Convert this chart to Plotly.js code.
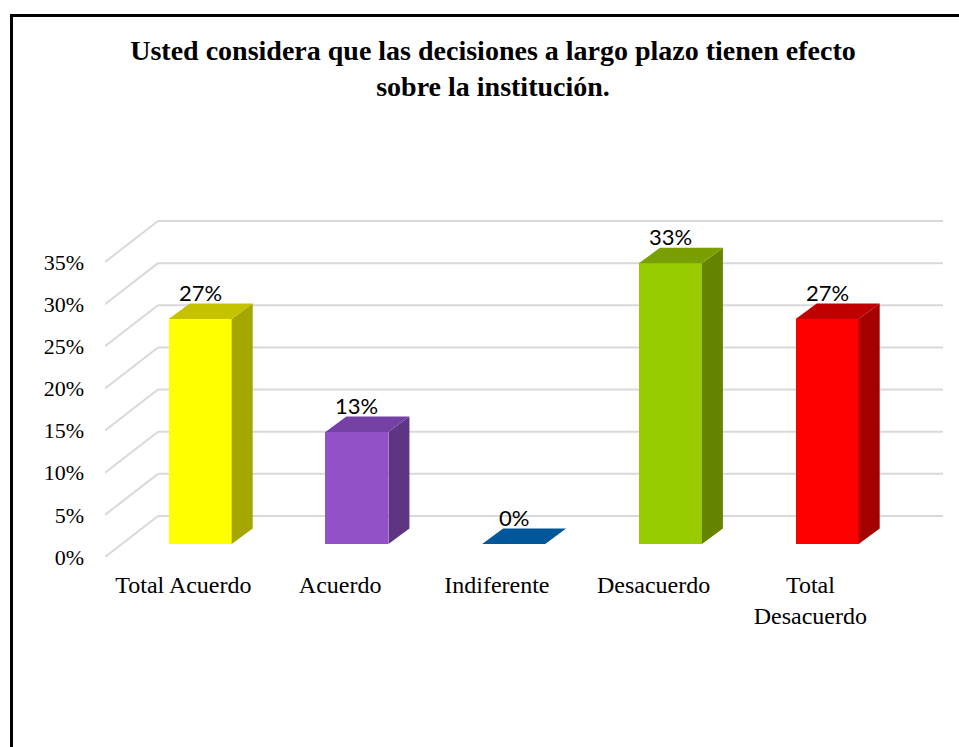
<!DOCTYPE html>
<html>
<head>
<meta charset="utf-8">
<script src="https://cdn.plot.ly/plotly-3.0.1.min.js"></script>
<style>
  html, body { margin: 0; padding: 0; background: #fff; }
  #wrap { position: relative; width: 959px; height: 747px; overflow: hidden; }
  #chart { position: absolute; left: 0; top: 0; width: 959px; height: 747px; }
  #frame { position: absolute; left: 10px; top: 14px; right: -5px; bottom: -5px;
           border-left: 3px solid #000; border-top: 3px solid #000; pointer-events: none; }
</style>
</head>
<body>
<div id="wrap">
  <div id="chart"></div>
  <div id="frame"></div>
</div>
<script>
// ---------------- data ----------------
const categories = ["Total Acuerdo", "Acuerdo", "Indiferente", "Desacuerdo", "Total<br>Desacuerdo"];
const values = [0.267, 0.133, 0.0, 0.333, 0.267];
const yTicks = [0, 0.05, 0.10, 0.15, 0.20, 0.25, 0.30, 0.35];
const titleText = "Usted considera que las decisiones a largo plazo tienen efecto<br>sobre la institución.";

// ---------------- styles ----------------
const frontColors = ["#FFFF00", "#9351C8", "#01579B", "#99CC00", "#FF0000"];
const topColors   = ["#C5C300", "#7541A5", "#02569A", "#79A000", "#C00000"];
const sideColors  = ["#A6A600", "#5F3484", "#013F70", "#658500", "#A40000"];
const gridColor = "#D9D9D9";
const serif = "Liberation Serif, Times New Roman, serif";

// ---------------- geometry (pixels -> axis units) ----------------
const M = { l: 105, r: 10, t: 215, b: 190 };
const W = 959, H = 747;
const plotW = W - M.l - M.r, plotH = H - M.t - M.b;
const pxPerCat = 156.75;          // px per category
const pxPerUnit = 842.86;         // px per 100%
const xMin = -0.5, xMax = xMin + plotW / pxPerCat;
const yMax = plotH / pxPerUnit;
const gridXEnd = xMin + (943 - M.l) / pxPerCat;
const wallDX = 53 / pxPerCat, wallDY = 41 / pxPerUnit;   // floor depth
const barOffX = 16.8 / pxPerCat, barOffY = 13 / pxPerUnit; // bar front plane
const barW = 63 / pxPerCat;
const barDX = 21 / pxPerCat, barDY = 15.5 / pxPerUnit;     // bar depth

const idx = categories.map((_, i) => i);
const xFront = idx.map(i => i + barOffX);

// gridlines (back wall + left side wall) as shapes below traces
const shapes = [];
yTicks.forEach(v => {
  shapes.push({ type: "line", xref: "x", yref: "y", layer: "below",
    x0: xMin, y0: v, x1: xMin + wallDX, y1: v + wallDY,
    line: { color: gridColor, width: 2 } });
  shapes.push({ type: "line", xref: "x", yref: "y", layer: "below",
    x0: xMin + wallDX, y0: v + wallDY, x1: gridXEnd, y1: v + wallDY,
    line: { color: gridColor, width: 2 } });
});

const traces = [];
// bar fronts
traces.push({
  type: "bar", x: xFront, y: values, base: barOffY, width: barW,
  marker: { color: frontColors, line: { width: 0 } },
  hoverinfo: "skip", showlegend: false
});
// side and top faces
values.forEach((v, i) => {
  const x0 = xFront[i] - barW / 2, x1 = xFront[i] + barW / 2;
  const b = barOffY, t = barOffY + v;
  if (v > 0) {
    traces.push({
      type: "scatter", mode: "lines", fill: "toself",
      x: [x1, x1 + barDX, x1 + barDX, x1, x1],
      y: [b, b + barDY, t + barDY, t, b],
      fillcolor: sideColors[i], line: { width: 0, color: sideColors[i] },
      hoverinfo: "skip", showlegend: false
    });
  }
  traces.push({
    type: "scatter", mode: "lines", fill: "toself",
    x: [x0, x1, x1 + barDX, x0 + barDX, x0],
    y: [t, t, t + barDY, t + barDY, t],
    fillcolor: topColors[i], line: { width: 0, color: topColors[i] },
    hoverinfo: "skip", showlegend: false
  });
});

// data labels
const annotations = values.map((v, i) => ({
  x: xFront[i], y: barOffY + v, xref: "x", yref: "y",
  text: Math.round(v * 100) + "%", showarrow: false,
  xanchor: "center", yanchor: "bottom", yshift: 12, borderpad: 0,
  font: { family: "Lato, Open Sans, sans-serif", size: 22, color: "#000" }
}));

const layout = {
  width: W, height: H,
  margin: M,
  paper_bgcolor: "#fff", plot_bgcolor: "rgba(0,0,0,0)",
  showlegend: false,
  bargap: 0,
  title: {
    text: titleText,
    xref: "container", x: 493 / W, xanchor: "center",
    yref: "container", y: 1 - 60 / H, yanchor: "top",
    font: { family: serif, size: 28, color: "#000", weight: "bold" }
  },
  xaxis: {
    range: [xMin, xMax], showgrid: false, zeroline: false, showline: false,
    tickmode: "array", tickvals: idx, ticktext: categories, ticks: "",
    ticklabelstandoff: 11,
    tickfont: { family: serif, size: 24, color: "#000" },
    fixedrange: true
  },
  yaxis: {
    range: [0, yMax], showgrid: false, zeroline: false, showline: false,
    tickmode: "array", tickvals: yTicks, tickformat: ".0%", ticks: "",
    ticklabelstandoff: 20,
    tickfont: { family: serif, size: 22, color: "#000" },
    fixedrange: true
  },
  shapes: shapes,
  annotations: annotations
};

Plotly.newPlot("chart", traces, layout, { displayModeBar: false, staticPlot: true });
</script>
</body>
</html>
